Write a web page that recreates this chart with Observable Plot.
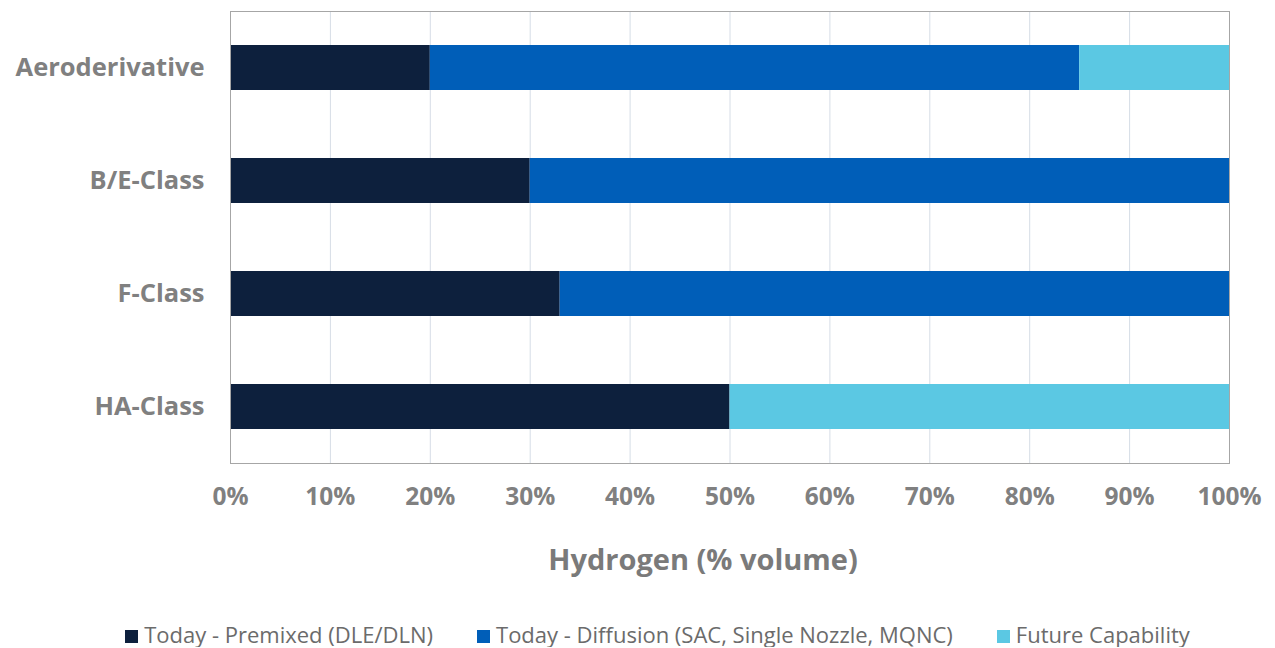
<!DOCTYPE html>
<html>
<head>
<meta charset="utf-8">
<script src="https://cdn.jsdelivr.net/npm/d3@7"></script>
<script src="https://cdn.jsdelivr.net/npm/@observablehq/plot@0.6"></script>
<style>
  body { margin: 0; background: #fff; font-family: "Open Sans", sans-serif; }
  #legend { display: flex; justify-content: center; gap: 44px; font-size: 22px; color: #6b6b6b; margin-top: 23px; padding-left: 40px; line-height: 26px; }
  #legend span.sw { display: inline-block; width: 13px; height: 13px; margin-right: 6px; vertical-align: 0px; }
</style>
</head>
<body>
<div id="chart"></div>
<div id="legend"></div>
<script>
const categories = ["Aeroderivative", "B/E-Class", "F-Class", "HA-Class"];
const seriesNames = ["Today - Premixed (DLE/DLN)", "Today - Diffusion (SAC, Single Nozzle, MQNC)", "Future Capability"];
const premixed = [20, 30, 33, 50];
const diffusion = [65, 70, 67, 0];
const future = [15, 0, 0, 50];
const colors = ["#0d203d", "#005eb8", "#5bc8e3"];
const xTicks = [0, 10, 20, 30, 40, 50, 60, 70, 80, 90, 100];
const xTitle = "Hydrogen (% volume)";

const rows = [];
const seriesValues = [premixed, diffusion, future];
categories.forEach((c, i) => {
  seriesValues.forEach((vals, s) => {
    rows.push({category: c, series: seriesNames[s], value: vals[i]});
  });
});

const chart = Plot.plot({
  width: 1275,
  height: 598,
  marginLeft: 230,
  marginRight: 46,
  marginTop: 11,
  marginBottom: 135,
  style: {fontFamily: "Open Sans, sans-serif", background: "#fff"},
  x: {domain: [0, 100], ticks: xTicks, tickFormat: d => d + "%", label: null},
  y: {domain: categories, paddingInner: 0.6, paddingOuter: 0.3, label: null},
  color: {domain: seriesNames, range: colors},
  marks: [
    Plot.gridX(xTicks, {stroke: "#d6dde6", strokeOpacity: 1}),
    Plot.barX(rows, Plot.stackX({x: "value", y: "category", fill: "series", order: seriesNames})),
    Plot.frame({stroke: "#a6a6a6"}),
    Plot.axisX({ticks: xTicks, tickFormat: d => d + "%", tickSize: 0, tickPadding: 24, fontSize: 24.5, fontWeight: "bold", fill: "#808080", label: null}),
    Plot.axisY({tickSize: 0, tickPadding: 26, fontSize: 25.5, fontWeight: "bold", fill: "#808080", label: null}),
    Plot.text([xTitle], {text: d => d, frameAnchor: "bottom", lineAnchor: "middle", dx: -27, dy: 97, fontSize: 29, fontWeight: "bold", fill: "#7a7a7a"})
  ]
});
document.getElementById("chart").appendChild(chart);

const legend = document.getElementById("legend");
seriesNames.forEach((n, i) => {
  const item = document.createElement("div");
  item.innerHTML = `<span class="sw" style="background:${colors[i]}"></span>${n}`;
  legend.appendChild(item);
});
</script>
</body>
</html>
